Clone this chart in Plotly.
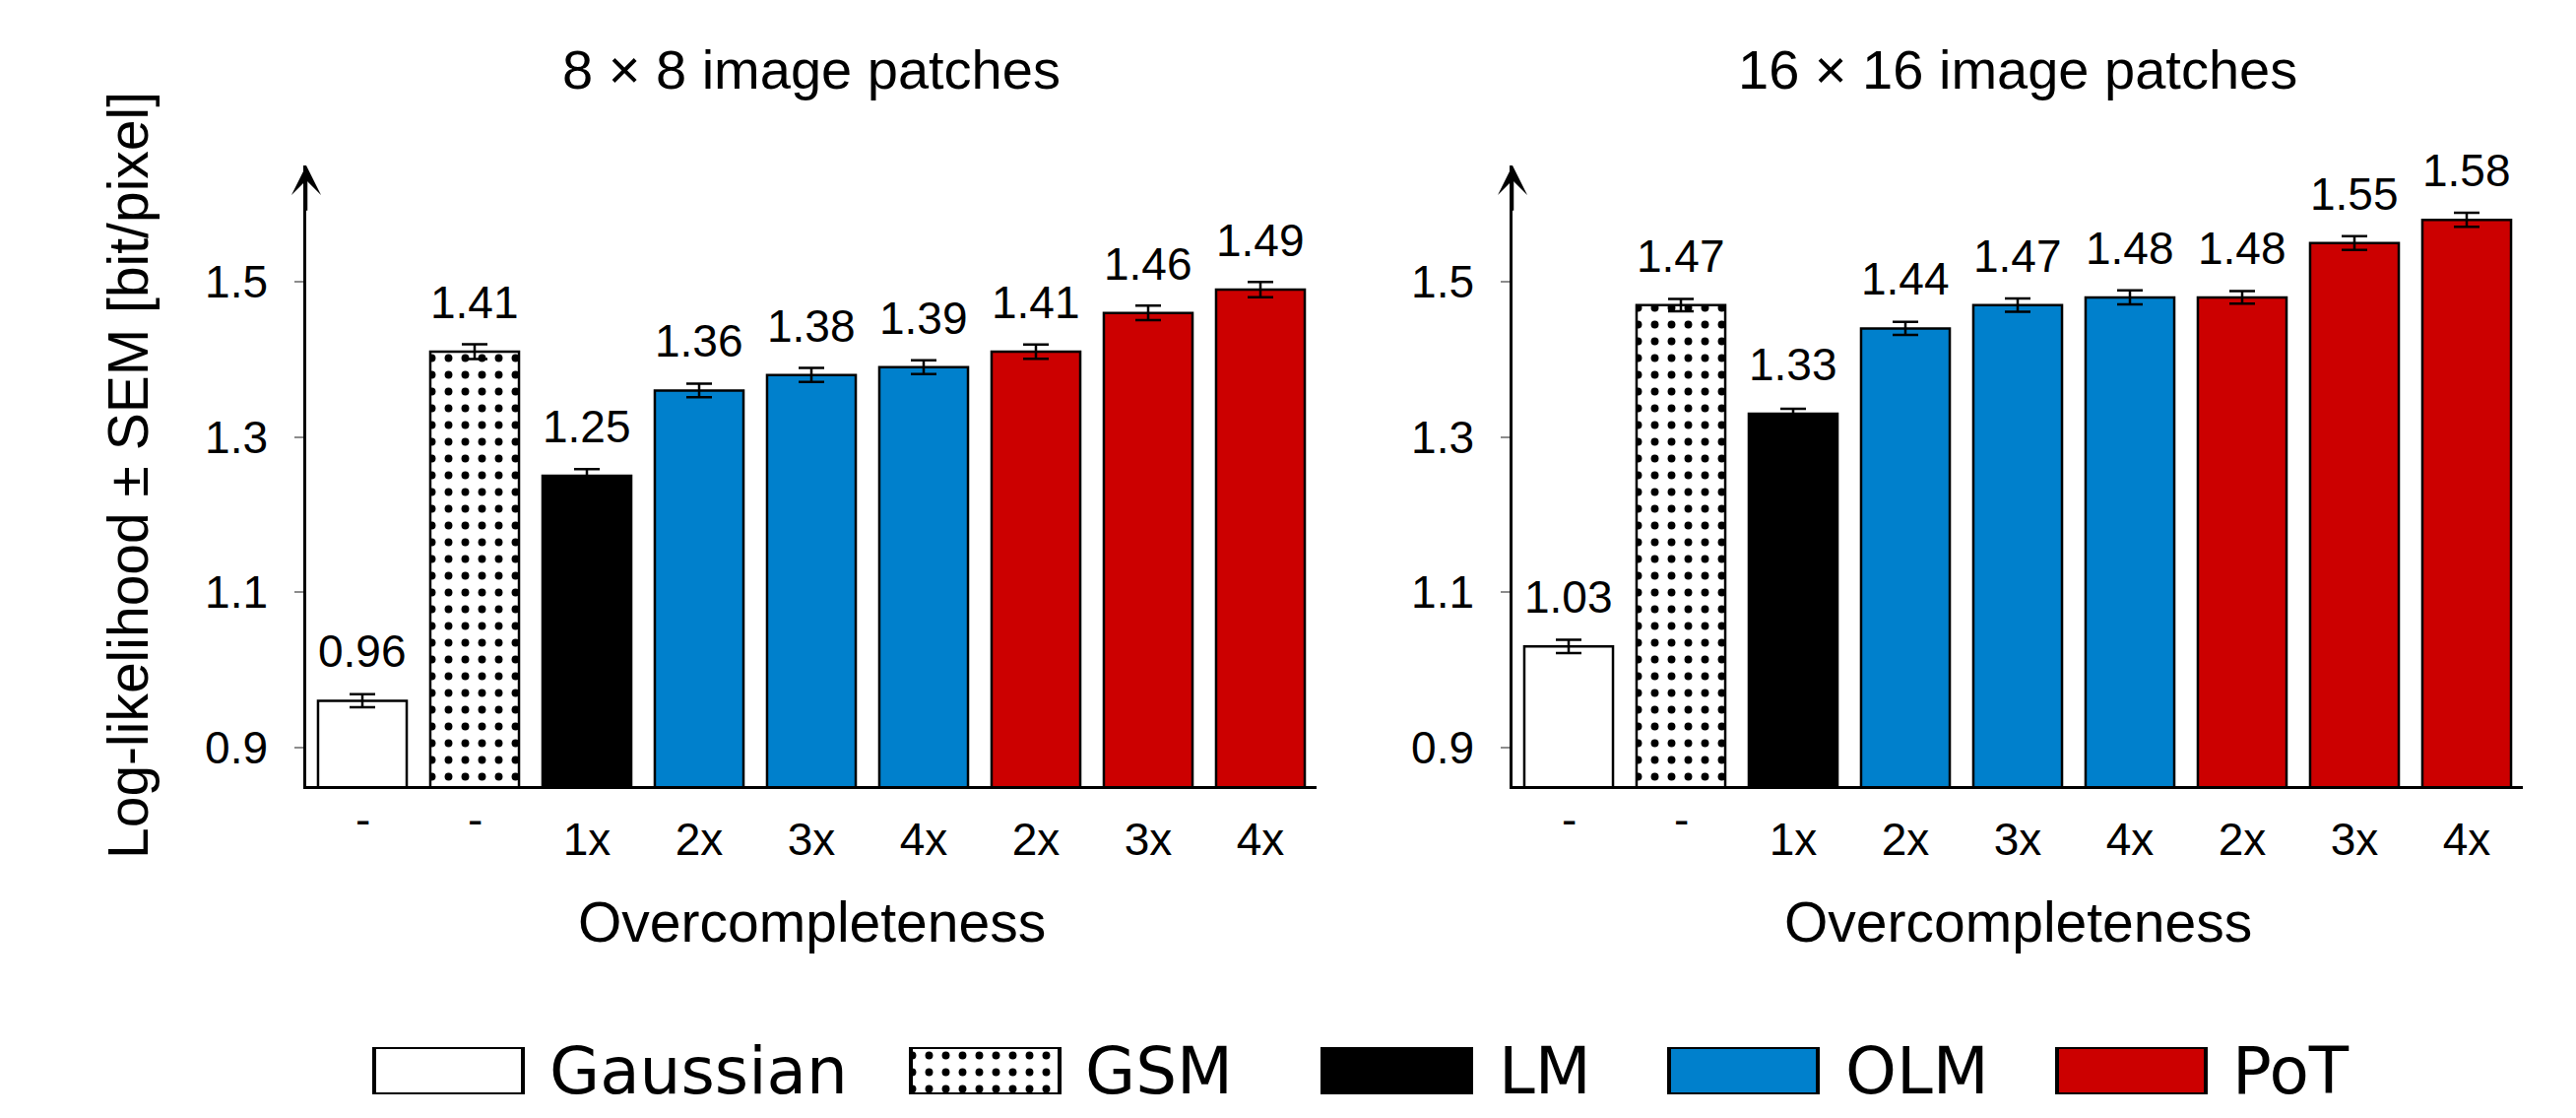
import plotly.graph_objects as go

# ---------------------------------------------------------------- data
overcompleteness = ["-", "-", "1x", "2x", "3x", "4x", "2x", "3x", "4x"]
bar_model = ["Gaussian", "GSM", "LM", "OLM", "OLM", "OLM", "PoT", "PoT", "PoT"]

ll_8x8 = [0.96, 1.41, 1.25, 1.36, 1.38, 1.39, 1.41, 1.46, 1.49]
sem_8x8 = [0.0085, 0.0095, 0.0087, 0.0087, 0.0090, 0.0090, 0.0093, 0.0094, 0.0097]

ll_16x16 = [1.03, 1.47, 1.33, 1.44, 1.47, 1.48, 1.48, 1.55, 1.58]
sem_16x16 = [0.0085, 0.0080, 0.0065, 0.0085, 0.0085, 0.0090, 0.0081, 0.0090, 0.0090]

panel_titles = ["8 \u00d7 8 image patches", "16 \u00d7 16 image patches"]
y_ticks = [0.9, 1.1, 1.3, 1.5]
legend_models = ["Gaussian", "GSM", "LM", "OLM", "PoT"]

# ---------------------------------------------------------------- styling
W, H = 2616, 1135
FONT = "Liberation Sans, Arial, Helvetica, sans-serif"
LEGEND_FONT = "DejaVu Sans, sans-serif"
BLUE = "#0080cc"
RED = "#cc0000"

dots = dict(shape=".", fgcolor="black", bgcolor="white", size=17,
            solidity=0.17, fillmode="replace")
MODEL_STYLE = {
    "Gaussian": dict(color="white"),
    "GSM": dict(color="white", pattern=dots),
    "LM": dict(color="black"),
    "OLM": dict(color=BLUE),
    "PoT": dict(color=RED),
}

Y_RANGE = [0.85, 1.65]
X_RANGE = [-0.5, len(overcompleteness) - 0.5]
BAR_WIDTH = 0.79

# panel geometry in figure pixels
PLOT_TOP, PLOT_BOTTOM = 168, 798
PANEL_X = [(311, 1337), (1536, 2562)]


def px_x(p):
    return p / W


def px_y(p):
    return 1 - p / H


fig = go.Figure()
annotations = []

panels = [(ll_8x8, sem_8x8), (ll_16x16, sem_16x16)]
for k, (values, sems) in enumerate(panels):
    xa = "x" if k == 0 else "x2"
    ya = "y" if k == 0 else "y2"
    for model in legend_models:
        idx = [i for i, m in enumerate(bar_model) if m == model]
        fig.add_trace(go.Bar(
            x=idx,
            y=[values[i] for i in idx],
            width=BAR_WIDTH,
            marker=dict(line=dict(color="black", width=2.5), **MODEL_STYLE[model]),
            error_y=dict(type="data", array=[sems[i] for i in idx], visible=True,
                         color="black", thickness=2.5, width=13),
            xaxis=xa, yaxis=ya, showlegend=False, hoverinfo="skip",
        ))
    # value labels above each bar
    for i, v in enumerate(values):
        annotations.append(dict(
            x=i, y=v, xref=xa, yref=ya, text=f"{v:.2f}", showarrow=False,
            yanchor="middle", yshift=50, font=dict(size=46, family=FONT, color="black"),
        ))
    # dash labels sit high, like a top-aligned glyph box
    for i, lab in enumerate(overcompleteness):
        if lab == "-":
            annotations.append(dict(
                x=i, y=px_y(832), xref=xa, yref="paper", text=lab, showarrow=False,
                yanchor="middle", font=dict(size=46, family=FONT, color="black"),
            ))
    # arrow head on top of the value axis
    annotations.append(dict(
        x=X_RANGE[0], y=Y_RANGE[1], xref=xa, yref=ya,
        ax=X_RANGE[0], ay=Y_RANGE[1] - 0.06, axref=xa, ayref=ya,
        text="", showarrow=True, arrowhead=3, arrowsize=2.0, arrowwidth=2.5,
        arrowcolor="black", standoff=0,
    ))
    x0, x1 = PANEL_X[k]
    cx = (x0 + x1) / 2
    annotations.append(dict(
        x=px_x(cx), y=px_y(70), xref="paper", yref="paper", text=panel_titles[k],
        showarrow=False, xanchor="center", yanchor="middle",
        font=dict(size=56, family=FONT, color="black"),
    ))
    annotations.append(dict(
        x=px_x(cx), y=px_y(936), xref="paper", yref="paper", text="Overcompleteness",
        showarrow=False, xanchor="center", yanchor="middle",
        font=dict(size=57, family=FONT, color="black"),
    ))

annotations.append(dict(
    x=px_x(130), y=px_y((PLOT_TOP + PLOT_BOTTOM) / 2), xref="paper", yref="paper",
    text="Log-likelihood \u00b1 SEM [bit/pixel]", textangle=-90, showarrow=False,
    xanchor="center", yanchor="middle", font=dict(size=57, family=FONT, color="black"),
))

# ---------------------------------------------------------------- legend
LEG_BOX_LEFT = [378, 923, 1341, 1693, 2087]
LEG_TEXT_LEFT = [556, 1100, 1520, 1872, 2265]
LEG_BOX_W = 155
LEG_TOP, LEG_BOTTOM = 1061, 1113
for model, bl, tl in zip(legend_models, LEG_BOX_LEFT, LEG_TEXT_LEFT):
    fig.add_trace(go.Bar(
        x=[bl + LEG_BOX_W / 2], y=[1], width=LEG_BOX_W - 4,
        marker=dict(line=dict(color="black", width=4), **MODEL_STYLE[model]),
        xaxis="x3", yaxis="y3", showlegend=False, hoverinfo="skip",
    ))
    annotations.append(dict(
        x=px_x(tl), y=px_y((LEG_TOP + LEG_BOTTOM) / 2), xref="paper", yref="paper",
        text=model, showarrow=False, xanchor="left", yanchor="middle",
        font=dict(size=66, family=LEGEND_FONT, color="black"),
    ))

xaxis_common = dict(
    range=X_RANGE, tickmode="array", tickvals=list(range(len(overcompleteness))),
    ticktext=["" if t == "-" else t for t in overcompleteness],
    showline=True, linecolor="black", linewidth=2.5, ticks="", showgrid=False,
    zeroline=False, tickfont=dict(size=46, family=FONT, color="black"),
    ticklabelstandoff=12, fixedrange=True,
)
yaxis_common = dict(
    range=Y_RANGE, tickmode="array", tickvals=y_ticks,
    ticktext=[f"{t:.1f}" for t in y_ticks],
    showline=True, linecolor="black", linewidth=2.5, ticks="outside", ticklen=9,
    tickwidth=2, tickcolor="#8c8c8c", showgrid=False, zeroline=False,
    tickfont=dict(size=46, family=FONT, color="black"), ticklabelstandoff=18,
    fixedrange=True, domain=[px_y(PLOT_BOTTOM), px_y(PLOT_TOP)],
)

fig.update_layout(
    width=W, height=H, autosize=False,
    margin=dict(l=0, r=0, t=0, b=0),
    paper_bgcolor="white", plot_bgcolor="white",
    barmode="overlay", showlegend=False,
    font=dict(family=FONT, color="black"),
    xaxis=dict(domain=[px_x(PANEL_X[0][0]), px_x(PANEL_X[0][1])], anchor="y", **xaxis_common),
    yaxis=dict(anchor="x", **yaxis_common),
    xaxis2=dict(domain=[px_x(PANEL_X[1][0]), px_x(PANEL_X[1][1])], anchor="y2", **xaxis_common),
    yaxis2=dict(anchor="x2", **yaxis_common),
    xaxis3=dict(domain=[0, 1], range=[0, W], visible=False, anchor="y3", fixedrange=True),
    yaxis3=dict(domain=[px_y(LEG_BOTTOM - 2), px_y(LEG_TOP + 2)], range=[0, 1],
                visible=False, anchor="x3", fixedrange=True),
    annotations=annotations,
)

fig.write_html("out.html")
